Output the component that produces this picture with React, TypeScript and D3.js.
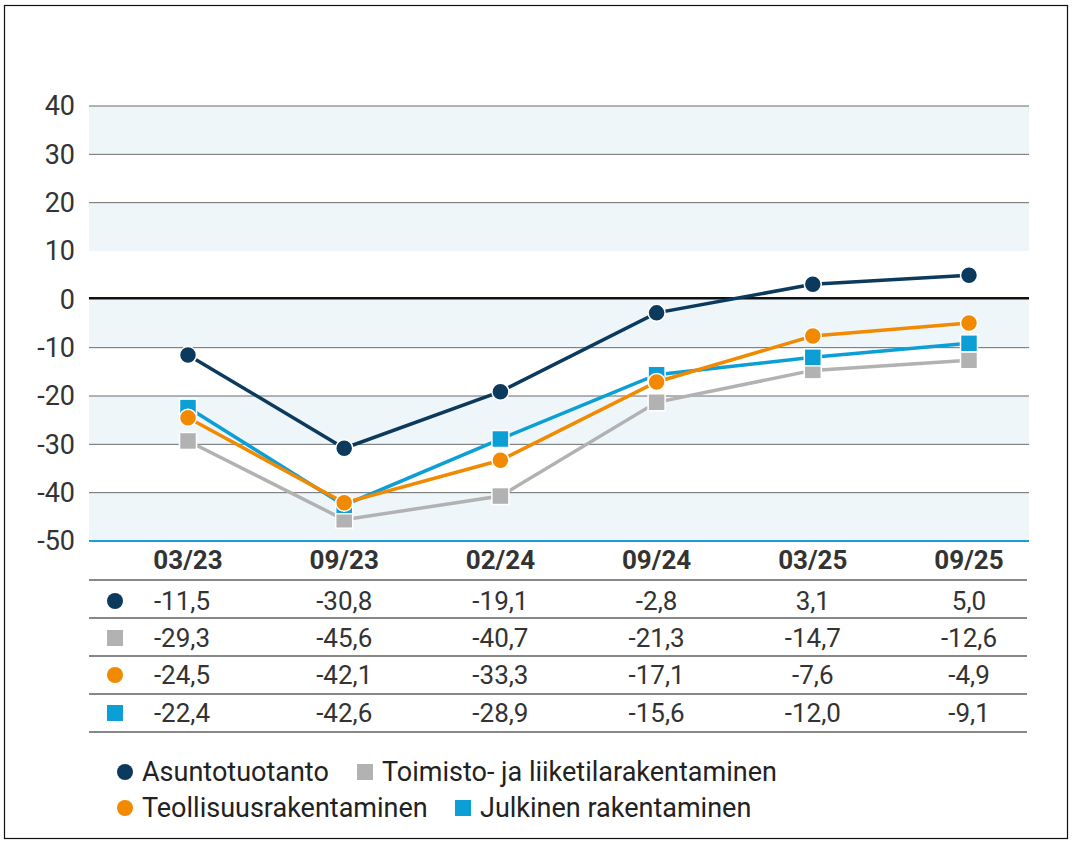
import React from "react";
import * as d3 from "d3";

const categories = ["03/23", "09/23", "02/24", "09/24", "03/25", "09/25"];
const seriesNames = ["Asuntotuotanto", "Toimisto- ja liiketilarakentaminen", "Teollisuusrakentaminen", "Julkinen rakentaminen"];
const asunto = [-11.5, -30.8, -19.1, -2.8, 3.1, 5.0];
const toimisto = [-29.3, -45.6, -40.7, -21.3, -14.7, -12.6];
const teollisuus = [-24.5, -42.1, -33.3, -17.1, -7.6, -4.9];
const julkinen = [-22.4, -42.6, -28.9, -15.6, -12.0, -9.1];
const yTicks = [40, 30, 20, 10, 0, -10, -20, -30, -40, -50];
const colors = ["#0b3a5d", "#b2b2b2", "#f18a00", "#0c9fd6"];
const shapes = ["circle", "square", "circle", "square"];

const FONT = "'Liberation Sans Narrow', 'Roboto', sans-serif";

export default function App() {
  const W = 1072, H = 843;
  const left = 89, right = 1029;
  const y = d3.scaleLinear().domain([-50, 40]).range([541, 106]);
  const x = d3.scalePoint<string>().domain(categories).range([188, 969]);
  const series = [asunto, toimisto, teollisuus, julkinen];
  // draw order: toimisto, teollisuus, julkinen... keep dark on top
  const drawOrder = [1, 3, 2, 0];
  const line = d3.line<number>().x((_, i) => x(categories[i])!).y((d) => y(d));

  const bands: [number, number][] = [[40, 30], [20, 10], [0, -10], [-20, -30], [-40, -50]];
  const gridVals = [40, 30, 20, -10, -20, -30, -40];

  const marker = (s: string, cx: number, cy: number, color: string, size: number, stroke: boolean, key: any) =>
    s === "circle" ? (
      <circle key={key} cx={cx} cy={cy} r={size / 2} fill={color} stroke={stroke ? "#fff" : "none"} strokeWidth={1.5} />
    ) : (
      <rect key={key} x={cx - size / 2} y={cy - size / 2} width={size} height={size} fill={color} stroke={stroke ? "#fff" : "none"} strokeWidth={1.5} />
    );

  const tableLines = [580, 618, 656, 694, 732];
  const rowY = [601, 638, 675, 713];
  const colX = categories.map((c, i) => (i === 0 ? x(c)! - 6 : x(c)!));
  const fmt = (v: number) => v.toFixed(1).replace(".", ",").replace("-", "-");

  return (
    <svg width={W} height={H} style={{ position: "absolute", left: 0, top: 0, display: "block" }} fontFamily={FONT}>
      <rect x={0} y={0} width={W} height={H} fill="#fff" />
      <rect x={4.5} y={5.5} width={1063} height={833} fill="none" stroke="#111" strokeWidth={1.2} />
      {bands.map(([a, b], i) => (
        <rect key={i} x={left} y={y(a)} width={right - left} height={y(b) - y(a)} fill="#eef6fa" />
      ))}
      {gridVals.map((v) => (
        <line key={v} x1={left} x2={right} y1={y(v)} y2={y(v)} stroke="#6b6b6b" strokeWidth={1} />
      ))}
      <line x1={left} x2={right} y1={y(0) - 1} y2={y(0) - 1} stroke="#111" strokeWidth={2.5} />
      <line x1={left} x2={right} y1={y(-50)} y2={y(-50)} stroke="#1a9ed4" strokeWidth={2} />
      {yTicks.map((v) => (
        <text key={v} x={75} y={y(v)} dy="0.35em" textAnchor="end" fontSize={27} fill="#333">
          {v}
        </text>
      ))}
      {drawOrder.map((si) => (
        <g key={si}>
          <path d={line(series[si])!} fill="none" stroke={colors[si]} strokeWidth={3.5} />
          {series[si].map((v, i) => marker(shapes[si], x(categories[i])!, y(v), colors[si], 17, true, i))}
        </g>
      ))}
      {categories.map((c, i) => (
        <text key={c} x={x(c)!} y={560} dy="0.35em" textAnchor="middle" fontSize={26} fontWeight="bold" fill="#333">
          {c}
        </text>
      ))}
      {tableLines.map((ly) => (
        <line key={ly} x1={left} x2={1027} y1={ly} y2={ly} stroke="#111" strokeWidth={1.2} />
      ))}
      {series.map((s, si) => (
        <g key={si}>
          {marker(shapes[si], 115, rowY[si], colors[si], 16, false, "m")}
          {s.map((v, i) => (
            <text key={i} x={colX[i]} y={rowY[si]} dy="0.35em" textAnchor="middle" fontSize={26} fill="#333">
              {fmt(v)}
            </text>
          ))}
        </g>
      ))}
      {seriesNames.map((n, si) => {
        const lx = [125, 365, 125, 463][si];
        const ly = [772, 772, 808, 808][si];
        return (
          <g key={n}>
            {marker(shapes[si], lx, ly, colors[si], 16, false, "m")}
            <text x={lx + 17} y={ly} dy="0.35em" fontSize={27} fill="#222">
              {n}
            </text>
          </g>
        );
      })}
    </svg>
  );
}
